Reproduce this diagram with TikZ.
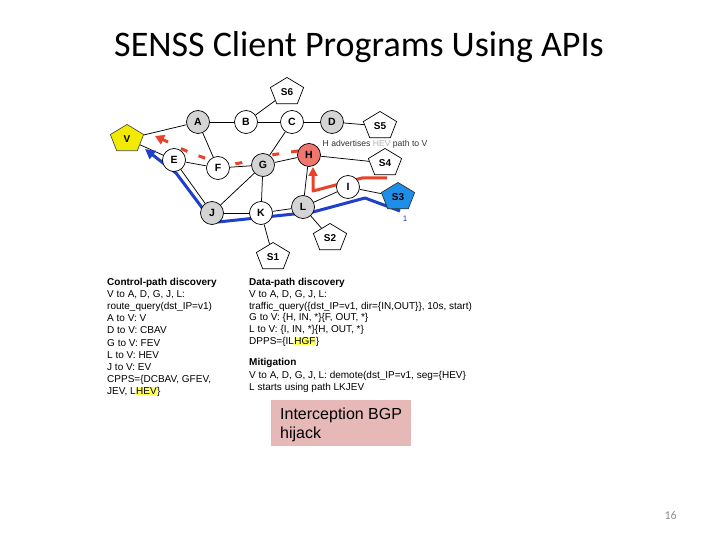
\documentclass[tikz,border=0pt]{standalone}
\usepackage{fontspec}
\setmainfont{Liberation Sans}
\newfontfamily\titlefont{Carlito}
\usetikzlibrary{shapes.geometric,arrows.meta,backgrounds}
\definecolor{nodegray}{RGB}{212,212,212}
\definecolor{hred}{RGB}{240,118,112}
\definecolor{vyellow}{RGB}{242,234,0}
\definecolor{sblue}{RGB}{30,143,232}
\definecolor{pathblue}{RGB}{32,64,204}
\definecolor{pathred}{RGB}{232,66,40}
\definecolor{boxpink}{RGB}{230,185,184}
\definecolor{hilite}{RGB}{255,255,90}
\definecolor{pagegray}{RGB}{140,140,140}
\newcommand{\hl}[1]{{\setlength{\fboxsep}{0.4pt}\colorbox{hilite}{#1}}}
\newcommand{\ptext}[1]{\scalebox{1}[1.2]{#1}}
\begin{document}
\begin{tikzpicture}[x=1pt,y=-1pt,
  circ/.style={circle,draw=black,line width=0.7pt,fill=white,minimum size=23pt,inner sep=0pt,font=\bfseries\fontsize{10.5}{11}\selectfont},
  gcirc/.style={circ,fill=nodegray},
  pent/.style={regular polygon,regular polygon sides=5,draw=black,line width=0.7pt,fill=white,minimum size=35pt,inner sep=0pt,yscale=0.83,transform shape,font=\bfseries\fontsize{10}{11}\selectfont},
  edge/.style={draw=black,line width=0.75pt},
  txt/.style={anchor=base west,inner sep=0pt,font=\fontsize{10}{12}\selectfont},
  btxt/.style={txt,font=\bfseries\fontsize{10}{12}\selectfont},
  bluepath/.style={draw=pathblue,line width=3pt,line join=round,-{Triangle[length=10pt,width=10pt]}},
  redpath/.style={draw=pathred,line width=3pt,line join=round,-{Triangle[length=9pt,width=9pt]}},
  reddash/.style={draw=pathred,line width=3pt,dash pattern=on 7pt off 12pt},
  redtip/.style={draw=pathred,line width=3pt,-{Triangle[length=9pt,width=10pt]}}
]
\useasboundingbox (0,0) rectangle (720,540);

% title
\node[anchor=base,inner sep=0pt,font=\titlefont\fontsize{36}{40}\selectfont] (title) at (359,57) {SENSS Client Programs Using APIs};

% graph nodes
\node[pent] (S6) at (287,92) {\ptext{S6}};
\node[gcirc] (A) at (198,122) {A};
\node[circ] (B) at (246,122) {B};
\node[circ] (C) at (292,122) {C};
\node[gcirc] (D) at (332,122) {D};
\node[pent] (S5) at (380,126) {\ptext{S5}};
\node[pent,fill=vyellow,draw=black!70] (V) at (127,139) {\ptext{V}};
\node[circ] (E) at (174,160) {E};
\node[circ] (F) at (218,168) {F};
\node[gcirc] (G) at (263,165) {G};
\node[circ,fill=hred] (H) at (309,155) {H};
\node[pent] (S4) at (385,163) {\ptext{S4}};
\node[circ] (I) at (348,187) {I};
\node[pent,fill=sblue,draw=black!80] (S3) at (398,197) {\ptext{S3}};
\node[gcirc] (J) at (212,213) {J};
\node[circ] (K) at (261,213) {K};
\node[gcirc] (L) at (303,207) {L};
\node[pent] (S2) at (330,238) {\ptext{S2}};
\node[pent] (S1) at (273,257) {\ptext{S1}};

\node[anchor=center,inner sep=0pt,font=\fontsize{8.6}{10}\selectfont,text=black!80] (adv) at (375,144) {H advertises \textcolor{black!30}{HEV} path to V};
\node[anchor=center,inner sep=0pt,font=\fontsize{8}{10}\selectfont,text=pathblue] (one) at (405,219) {1};

% path coordinates
\coordinate (b1) at (400,211);
\coordinate (b2) at (365,198);
\coordinate (b3) at (313,212);
\coordinate (b4) at (218,222);
\coordinate (b5) at (203,209);
\coordinate (b6) at (176,173);
\coordinate (b7) at (145,149);
\coordinate (r1) at (387,178);
\coordinate (r2) at (362,178);
\coordinate (r3) at (313,191);
\coordinate (r4) at (313,167);
\coordinate (d1) at (298,151);
\coordinate (d6) at (168,142);
\coordinate (d7) at (155,136);

\begin{scope}[on background layer]
  \draw[edge] (V) -- (A);
  \draw[edge] (V) -- (E);
  \draw[edge] (A) -- (B);
  \draw[edge] (A) -- (F);
  \draw[edge] (B) -- (S6);
  \draw[edge] (B) -- (C);
  \draw[edge] (C) -- (D);
  \draw[edge] (C) -- (G);
  \draw[edge] (D) -- (S5);
  \draw[edge] (E) -- (F);
  \draw[edge] (E) -- (J);
  \draw[edge] (F) -- (G);
  \draw[edge] (G) -- (H);
  \draw[edge] (G) -- (J);
  \draw[edge] (G) -- (K);
  \draw[edge] (H) -- (S4);
  \draw[edge] (H) -- (L);
  \draw[edge] (I) -- (L);
  \draw[edge] (I) -- (S3);
  \draw[edge] (J) -- (K);
  \draw[edge] (K) -- (L);
  \draw[edge] (K) -- (S1);
  \draw[edge] (L) -- (S2);
  \draw[bluepath] (b1) -- (b2) -- (b3) -- (b4) -- (b5) -- (b6) -- (b7);
  \draw[redpath] (r1) -- (r2) -- (r3) -- (r4);
  \draw[reddash] plot[smooth,tension=0.6] coordinates {(d1) (266,156) (231,164) (199,156) (178,147)};
  \draw[redtip] (d6) -- (d7);
\end{scope}

% left column
\node[btxt] (l0) at (107,285.5) {Control-path discovery};
\node[txt] (l1) at (107,297.6) {V to A, D, G, J, L:};
\node[txt] (l2) at (107,309.7) {route\_query(dst\_IP=v1)};
\node[txt] (l3) at (107,321.8) {A to V: V};
\node[txt] (l4) at (107,333.9) {D to V: CBAV};
\node[txt] (l5) at (107,346.0) {G to V: FEV};
\node[txt] (l6) at (107,358.1) {L to V: HEV};
\node[txt] (l7) at (107,370.2) {J to V: EV};
\node[txt] (l8) at (107,382.3) {CPPS=\{DCBAV, GFEV,};
\node[txt] (l9) at (107,394.4) {JEV, L\hl{HEV}\}};

% right column
\node[btxt] (r0) at (249,285.5) {Data-path discovery};
\node[txt] (rr1) at (249,297.3) {V to A, D, G, J, L:};
\node[txt] (rr2) at (249,309.1) {traffic\_query(\{dst\_IP=v1, dir=\{IN,OUT\}\}, 10s, start)};
\node[txt] (rr3) at (249,320.9) {G to V: \{H, IN, *\}\{F, OUT, *\}};
\node[txt] (rr4) at (249,332.7) {L to V: \{I, IN, *\}\{H, OUT, *\}};
\node[txt] (rr5) at (249,344.5) {DPPS=\{IL\hl{HGF}\}};
\node[btxt] (rr6) at (249,365.5) {Mitigation};
\node[txt] (rr7) at (249,378.3) {V to A, D, G, J, L: demote(dst\_IP=v1, seg=\{HEV\}};
\node[txt] (rr8) at (249,390.6) {L starts using path LKJEV};

% box
\node[draw=none,fill=boxpink,minimum width=140pt,minimum height=46pt,inner sep=0pt,anchor=north west] (box) at (271,400) {};
\node[anchor=base west,inner sep=0pt,font=\fontsize{16}{19}\selectfont] (bx1) at (280,419) {Interception BGP};
\node[anchor=base west,inner sep=0pt,font=\fontsize{16}{19}\selectfont] (bx2) at (280,438) {hijack};

% page number
\node[anchor=base east,inner sep=0pt,font=\titlefont\fontsize{12}{14}\selectfont,text=pagegray] (pg) at (677,519) {16};
\end{tikzpicture}
\end{document}
